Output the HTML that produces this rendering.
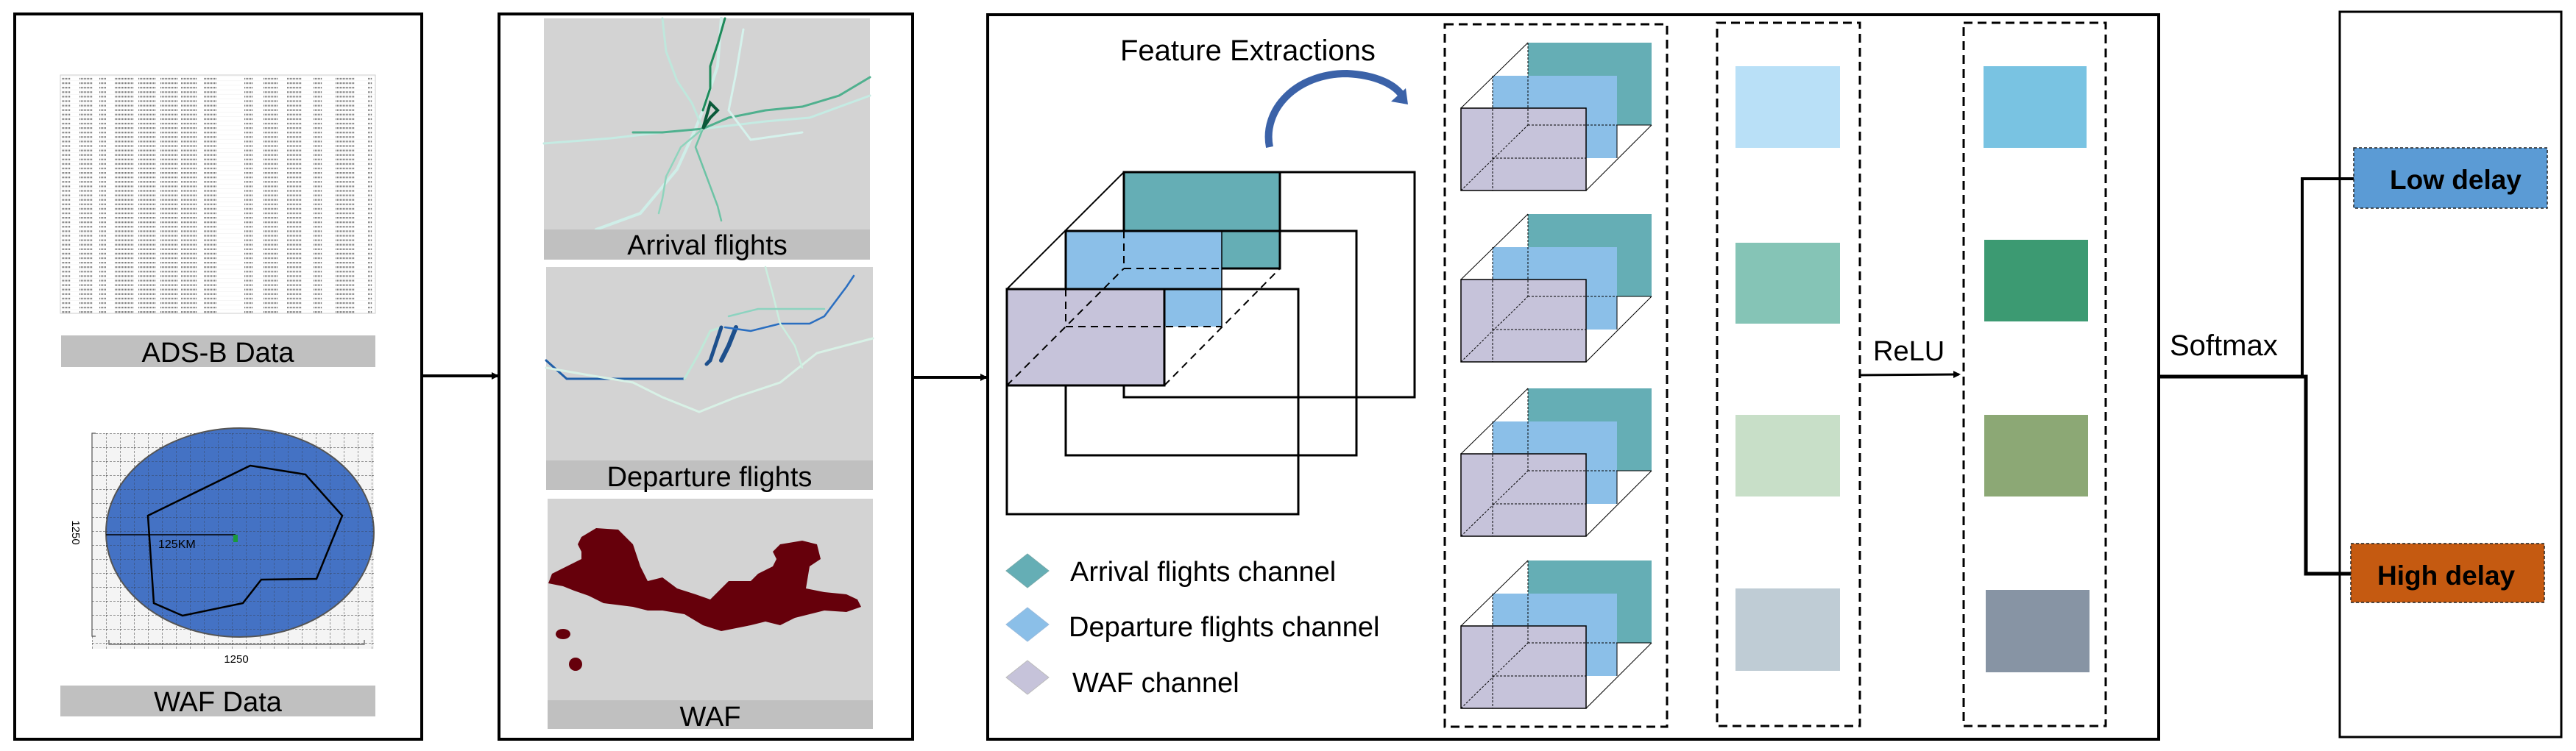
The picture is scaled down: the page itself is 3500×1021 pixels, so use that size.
<!DOCTYPE html>
<html><head><meta charset="utf-8"><style>
html,body{margin:0;padding:0;background:#fff;}
svg{display:block;}
text{font-family:"Liberation Sans",sans-serif;}
</style></head><body>
<svg width="3500" height="1021" viewBox="0 0 3500 1021" xmlns="http://www.w3.org/2000/svg">
<defs>
<pattern id="rows" x="82" y="104" width="428" height="6.1" patternUnits="userSpaceOnUse">
<g stroke="#777" stroke-width="2.2" stroke-dasharray="1.2 0.8">
<line x1="2" y1="3" x2="14" y2="3"/><line x1="26" y1="3" x2="44" y2="3"/><line x1="53" y1="3" x2="62" y2="3"/>
<line x1="74" y1="3" x2="100" y2="3"/><line x1="106" y1="3" x2="130" y2="3"/><line x1="136" y1="3" x2="160" y2="3"/>
<line x1="164" y1="3" x2="186" y2="3"/><line x1="195" y1="3" x2="212" y2="3"/><line x1="250" y1="3" x2="262" y2="3"/>
<line x1="276" y1="3" x2="296" y2="3"/><line x1="308" y1="3" x2="328" y2="3"/><line x1="344" y1="3" x2="356" y2="3"/>
<line x1="374" y1="3" x2="400" y2="3"/><line x1="418" y1="3" x2="424" y2="3"/>
</g>
<line x1="0" y1="6" x2="428" y2="6" stroke="#e4e4e4" stroke-width="0.5"/>
</pattern>
<pattern id="grid" x="144" y="589" width="19" height="19" patternUnits="userSpaceOnUse">
<path d="M0 0H19M0 0V19" stroke="#333" stroke-width="1" stroke-dasharray="3 2" fill="none"/>
</pattern>
<marker id="ah" markerWidth="10" markerHeight="10" refX="8" refY="5" orient="auto" markerUnits="userSpaceOnUse"><path d="M0,0 L10,5 L0,10 z" fill="#000"/></marker>
</defs>

<!-- Panel 1 -->
<rect x="20" y="19" width="553" height="986" fill="#fff" stroke="#000" stroke-width="4"/>
<rect x="82" y="102" width="428" height="324" fill="url(#rows)"/>
<rect x="82" y="102" width="428" height="324" fill="none" stroke="#ccc" stroke-width="1"/>
<rect x="83" y="456" width="427" height="43" fill="#c0c0c0"/>
<text x="296" y="492" font-size="38" text-anchor="middle">ADS-B Data</text>
<!-- WAF data plot -->
<rect x="125" y="589" width="383" height="293" fill="#f4f4f4"/>
<rect x="125" y="589" width="383" height="293" fill="url(#grid)"/>
<ellipse cx="326" cy="724" rx="182" ry="142" fill="#4472c4" stroke="#555" stroke-width="2"/>
<clipPath id="ec"><ellipse cx="326" cy="724" rx="182" ry="142"/></clipPath>
<rect x="125" y="589" width="383" height="293" fill="url(#grid)" clip-path="url(#ec)" opacity="0.7"/>
<path d="M340 633 L415 645 L465 701 L430 787 L355 788 L330 820 L248 837 L209 820 L201 701 Z" fill="none" stroke="#000" stroke-width="2.5"/>
<line x1="144" y1="727" x2="320" y2="727" stroke="#000" stroke-width="1.5"/>
<text x="215" y="745" font-size="16" font-family="Liberation Serif">125KM</text>
<rect x="317" y="727" width="6" height="10" fill="#1a9a3a"/>
<path d="M130 589 H125 V865 H130" fill="none" stroke="#555" stroke-width="1.2"/>
<path d="M148 870 V876 H495 V870" fill="none" stroke="#555" stroke-width="1.2"/>
<text x="321" y="901" font-size="15" text-anchor="middle">1250</text>
<text x="0" y="0" font-size="15" text-anchor="middle" transform="translate(98 724) rotate(90)">1250</text>
<rect x="82" y="932" width="428" height="42" fill="#c0c0c0"/>
<text x="296" y="967" font-size="38" text-anchor="middle">WAF Data</text>

<!-- arrow 1 -->
<line x1="573" y1="511" x2="676" y2="511" stroke="#000" stroke-width="4" marker-end="url(#ah)"/>

<!-- Panel 2 -->
<rect x="678" y="19" width="562" height="986" fill="#fff" stroke="#000" stroke-width="4"/>
<rect x="739" y="25" width="443" height="287" fill="#d3d3d3"/>
<g fill="none" stroke-linecap="round">
<path d="M810 312 L870 290 L920 230 L945 175 L955 150 L975 90 L980 25" stroke="#cfeee8" stroke-width="4"/>
<path d="M739 195 L830 188 L900 180 L955 175 L1040 165 L1100 160 L1182 130" stroke="#c5ebe3" stroke-width="3"/>
<path d="M955 150 L965 120 L965 90 L975 60 L985 25" stroke="#1e8a5a" stroke-width="3"/>
<path d="M955 175 L940 140 L920 110 L905 70 L900 25" stroke="#bfe7dc" stroke-width="3"/>
<path d="M860 180 L900 180 L955 175 L990 160 L1040 150 L1090 145 L1140 130 L1182 105" stroke="#4fb08e" stroke-width="3"/>
<path d="M955 175 L945 200 L960 240 L975 280 L980 300" stroke="#6cc3a5" stroke-width="2.5"/>
<path d="M955 175 L925 200 L905 240 L900 270 L895 290" stroke="#8fd4bd" stroke-width="2.5"/>
<path d="M955 175 L965 160 L975 150 L965 140 Z" stroke="#0a5a3a" stroke-width="4"/>
<path d="M1010 40 L1000 100 L990 150 L1020 190 L1090 180" stroke="#d5f2ec" stroke-width="3"/>
</g>
<rect x="739" y="312" width="443" height="41" fill="#c0c0c0"/>
<text x="961" y="346" font-size="38" text-anchor="middle">Arrival flights</text>

<rect x="742" y="363" width="444" height="263" fill="#d3d3d3"/>
<g fill="none" stroke-linecap="round">
<path d="M742 490 L770 515 L930 515" stroke="#1f5fa8" stroke-width="3"/>
<path d="M930 515 L950 480 L965 450 L980 445" stroke="#bfe8d8" stroke-width="3"/>
<path d="M980 445 L965 490 L960 495" stroke="#1d4f8c" stroke-width="5"/>
<path d="M1000 445 L990 470 L980 490" stroke="#1d4f8c" stroke-width="6"/>
<path d="M985 445 L1020 450 L1060 440 L1100 440 L1120 430 L1150 390 L1160 375" stroke="#2a6ec0" stroke-width="2.5"/>
<path d="M742 500 L800 510 L860 520 L900 540 L950 560 L1000 540 L1060 520 L1110 480 L1186 460" stroke="#d8f1e6" stroke-width="3"/>
<path d="M1040 363 L1050 400 L1060 440 L1080 470 L1090 500" stroke="#cbeedf" stroke-width="2.5"/>
<path d="M990 430 L1030 420 L1080 420 L1120 420" stroke="#8dd3c0" stroke-width="2.5"/>
</g>
<rect x="742" y="626" width="444" height="40" fill="#c0c0c0"/>
<text x="964" y="661" font-size="38" text-anchor="middle">Departure flights</text>

<rect x="744" y="678" width="442" height="274" fill="#d3d3d3"/>
<g fill="#66000b">
<path d="M790 730 L810 718 L840 720 L860 740 L870 770 L880 790 L900 785 L920 800 L945 808 L965 815 L980 800 L990 790 L1020 790 L1030 780 L1050 770 L1055 760 L1050 750 L1060 740 L1090 735 L1110 740 L1115 760 L1100 770 L1095 800 L1120 805 L1150 808 L1165 815 L1170 825 L1150 832 L1120 830 L1080 840 L1060 850 L1040 845 L1020 850 L980 858 L955 850 L930 835 L900 830 L880 830 L860 825 L820 820 L800 810 L780 803 L765 797 L745 793 L750 780 L770 770 L790 760 L790 750 L785 740 Z"/>
<circle cx="1080" cy="745" r="6"/>
<ellipse cx="765" cy="862" rx="10" ry="7"/>
<ellipse cx="782" cy="903" rx="9" ry="9"/>
</g>
<rect x="744" y="952" width="442" height="39" fill="#c0c0c0"/>
<text x="965" y="987" font-size="38" text-anchor="middle">WAF</text>

<!-- arrow 2 -->
<line x1="1240" y1="513" x2="1340" y2="513" stroke="#000" stroke-width="4" marker-end="url(#ah)"/>

<!-- Panel 3 -->
<rect x="1342" y="20" width="1591" height="985" fill="none" stroke="#000" stroke-width="4"/>
<text x="1522" y="82" font-size="40">Feature Extractions</text>
<path d="M1725 200 C1715 150 1760 100 1830 100 C1870 102 1895 115 1905 130" fill="none" stroke="#3b62a8" stroke-width="10"/>
<path d="M1890 138 L1913 142 L1910 120 Z" fill="#3b62a8"/>

<!-- big cube -->
<rect x="1527" y="234" width="395" height="306" fill="none" stroke="#000" stroke-width="3"/>
<rect x="1527" y="234" width="212" height="131" fill="#65aeb5" stroke="#000" stroke-width="3"/>
<rect x="1448" y="314" width="395" height="305" fill="none" stroke="#000" stroke-width="3"/>
<rect x="1448" y="314" width="212" height="130" fill="#8bbfe8"/>
<path d="M1448 444 V314 H1660" fill="none" stroke="#000" stroke-width="3"/>
<line x1="1660" y1="314" x2="1660" y2="444" stroke="#000" stroke-width="1.5"/>
<rect x="1368" y="393" width="396" height="306" fill="none" stroke="#000" stroke-width="3"/>
<rect x="1368" y="393" width="214" height="131" fill="#c6c3da" stroke="#000" stroke-width="3"/>
<g stroke="#000" stroke-width="2" stroke-dasharray="10 7" fill="none">
<line x1="1527" y1="365" x2="1739" y2="365"/>
<line x1="1448" y1="444" x2="1660" y2="444"/>
<line x1="1527" y1="314" x2="1527" y2="365"/>
<line x1="1448" y1="393" x2="1448" y2="444"/>
<line x1="1368" y1="524" x2="1527" y2="365"/>
<line x1="1582" y1="524" x2="1739" y2="365"/>
</g>
<line x1="1368" y1="393" x2="1527" y2="234" stroke="#000" stroke-width="2"/>

<!-- legend -->
<path d="M1396 753 L1425 776 L1396 799 L1367 776 Z" fill="#65aeb5" stroke="#7aa" stroke-width="1"/>
<path d="M1396 826 L1425 849 L1396 872 L1367 849 Z" fill="#8bbfe8" stroke="#9bd" stroke-width="1"/>
<path d="M1396 898 L1425 921 L1396 944 L1367 921 Z" fill="#c6c3da" stroke="#bbb" stroke-width="1"/>
<text x="1454" y="790" font-size="38">Arrival flights channel</text>
<text x="1452" y="865" font-size="38">Departure flights channel</text>
<text x="1457" y="941" font-size="38">WAF channel</text>

<!-- dashed box 1 -->
<rect x="1963" y="33" width="302" height="955" fill="none" stroke="#000" stroke-width="3" stroke-dasharray="12 7"/>
<g id="cube">
<rect x="2076" y="58" width="168" height="112" fill="#65aeb5"/>
<rect x="2028" y="103" width="169" height="112" fill="#8bbfe8"/>
<rect x="1985" y="147" width="170" height="112" fill="#c6c3da" stroke="#000" stroke-width="1.5"/>
<g stroke="#000" stroke-width="1" fill="none">
<line x1="1985" y1="147" x2="2076" y2="58"/>
<line x1="2155" y1="259" x2="2244" y2="170"/>
<line x1="2197" y1="215" x2="2197" y2="170"/>
<path d="M2197 170 H2244" />
<g stroke-dasharray="3 2"><line x1="1985" y1="259" x2="2076" y2="170"/><line x1="2076" y1="170" x2="2197" y2="170"/><line x1="2076" y1="58" x2="2076" y2="170"/><line x1="2028" y1="215" x2="2155" y2="215"/><line x1="2028" y1="103" x2="2028" y2="259"/></g>
</g>
</g>
<use href="#cube" y="233"/>
<use href="#cube" y="470"/>
<use href="#cube" y="704"/>

<!-- dashed box 2 -->
<rect x="2333" y="31" width="194" height="956" fill="none" stroke="#000" stroke-width="3" stroke-dasharray="12 7"/>
<rect x="2358" y="90" width="142" height="111" fill="#b9e0f7"/>
<rect x="2358" y="330" width="142" height="110" fill="#85c4b6"/>
<rect x="2358" y="564" width="142" height="111" fill="#c8dfc8"/>
<rect x="2358" y="800" width="142" height="112" fill="#bfccd5"/>
<text x="2545" y="490" font-size="38">ReLU</text>
<line x1="2527" y1="510" x2="2662" y2="509" stroke="#000" stroke-width="3" marker-end="url(#ah)"/>

<!-- dashed box 3 -->
<rect x="2668" y="31" width="193" height="956" fill="none" stroke="#000" stroke-width="3" stroke-dasharray="12 7"/>
<rect x="2695" y="90" width="140" height="111" fill="#79c3e2"/>
<rect x="2696" y="326" width="141" height="111" fill="#3c9a72"/>
<rect x="2696" y="564" width="141" height="111" fill="#8ca875"/>
<rect x="2698" y="802" width="141" height="112" fill="#8794a4"/>

<!-- softmax -->
<text x="2948" y="483" font-size="40">Softmax</text>
<path d="M2933 512 H3133 V780 H3218" fill="none" stroke="#000" stroke-width="5" marker-end="url(#ah)"/>
<path d="M3128 512 V243 H3232" fill="none" stroke="#000" stroke-width="4" marker-end="url(#ah)"/>

<!-- Panel 4 -->
<rect x="3179" y="16" width="301" height="986" fill="none" stroke="#000" stroke-width="3"/>
<rect x="3198" y="201" width="263" height="82" fill="#5b9bd5" stroke="#222" stroke-width="1.5" stroke-dasharray="4 3"/>
<text x="3247" y="257" font-size="37" font-weight="bold">Low delay</text>
<rect x="3194" y="739" width="263" height="80" fill="#c55a11" stroke="#222" stroke-width="1.5" stroke-dasharray="4 3"/>
<text x="3230" y="795" font-size="37" font-weight="bold">High delay</text>
</svg>
</body></html>
